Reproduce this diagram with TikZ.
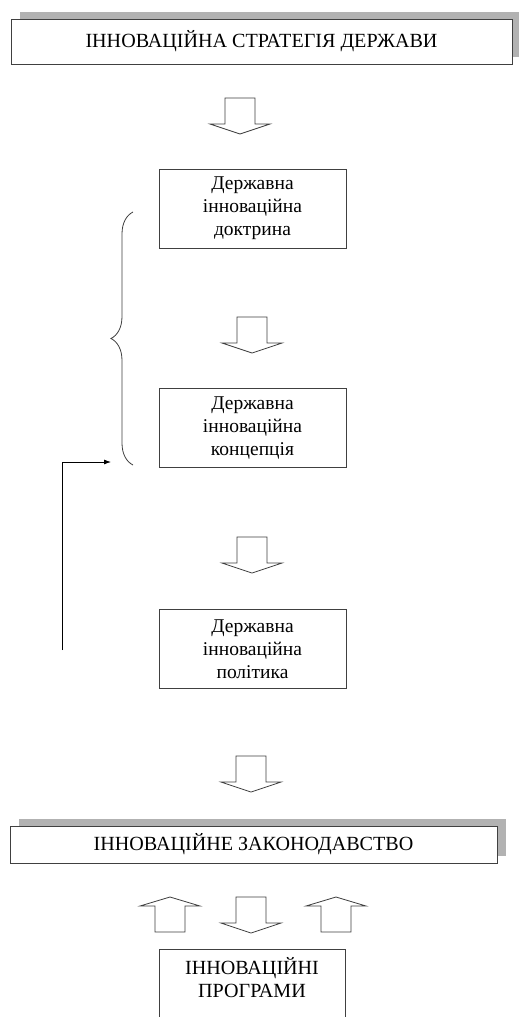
\documentclass[tikz,border=0pt]{standalone}
\usepackage{fontspec}
\setmainfont{Liberation Serif}
\usetikzlibrary{positioning,shadows,decorations.pathreplacing,arrows.meta}
\newcommand\diagfont{\fontsize{19.5}{23}\selectfont}
\newcommand\capsfont{\fontsize{20.1}{23}\selectfont}

\begin{document}
\begin{tikzpicture}[x=1pt,y=1pt]
    \tikzset{Box/.style = {draw=black!75, line width=0.8pt, fill=white, align=center, font=\diagfont, inner sep=0pt}}
    \tikzset{ColBox/.style = {Box, minimum width=187pt, minimum height=79pt}}
    \tikzset{WideBox/.style = {Box, font=\capsfont, drop shadow={shadow xshift=8.5pt, shadow yshift=7.5pt, fill=black!30, opacity=1}}}
    \tikzset{pics/DownArr/.style = {code={
        \draw[black!75, line width=0.8pt, fill=white] (-15,0) -- (15,0) -- (15,-26) -- (30,-26) -- (0,-36) -- (-30,-26) -- (-15,-26) -- cycle;}}}
    \tikzset{pics/UpArr/.style = {code={
        \draw[black!75, line width=0.8pt, fill=white] (-15,0) -- (15,0) -- (15,26) -- (30,26) -- (0,35) -- (-30,26) -- (-15,26) -- cycle;}}}
    \clip (0,0) rectangle (519,-1017);
    \fill[white] (0,0) rectangle (519,-1017);
    \node[WideBox, minimum width=501pt, minimum height=45pt] (strategy) at (261.5,-41.5) {ІННОВАЦІЙНА СТРАТЕГІЯ ДЕРЖАВИ};
    \node[ColBox] (doctrine) at (252.5,-208.5) {Державна\\інноваційна\\доктрина};
    \node[ColBox, below=140pt of doctrine] (concept) {Державна\\інноваційна\\концепція};
    \node[ColBox, below=141pt of concept] (policy) {Державна\\інноваційна\\політика};
    \node[WideBox, minimum width=487pt, minimum height=37pt] (law) at (253.5,-844.5) {ІННОВАЦІЙНЕ ЗАКОНОДАВСТВО};
    \node[Box, font=\capsfont, minimum width=186pt, anchor=north, text height=48.5pt, text depth=60pt] (programs) at (252,-949) {ІННОВАЦІЙНІ\\ПРОГРАМИ};
    \pic at (240,-98) {DownArr};
    \pic at (252,-317) {DownArr};
    \pic at (252,-537) {DownArr};
    \pic at (251,-756) {DownArr};
    \pic at (251,-897) {DownArr};
    \pic at (170,-932) {UpArr};
    \pic at (336,-932) {UpArr};
    \draw[black!75, line width=0.8pt, decorate, decoration={brace, amplitude=22pt}] (133,-465) -- (133,-212);
    \coordinate (fbstart) at (62,-650);
    \coordinate (fbend) at (111,-462);
    \draw[line width=0.8pt, -{Latex[length=7pt, width=5pt]}] (fbstart) |- (fbend);
\end{tikzpicture}
\end{document}
